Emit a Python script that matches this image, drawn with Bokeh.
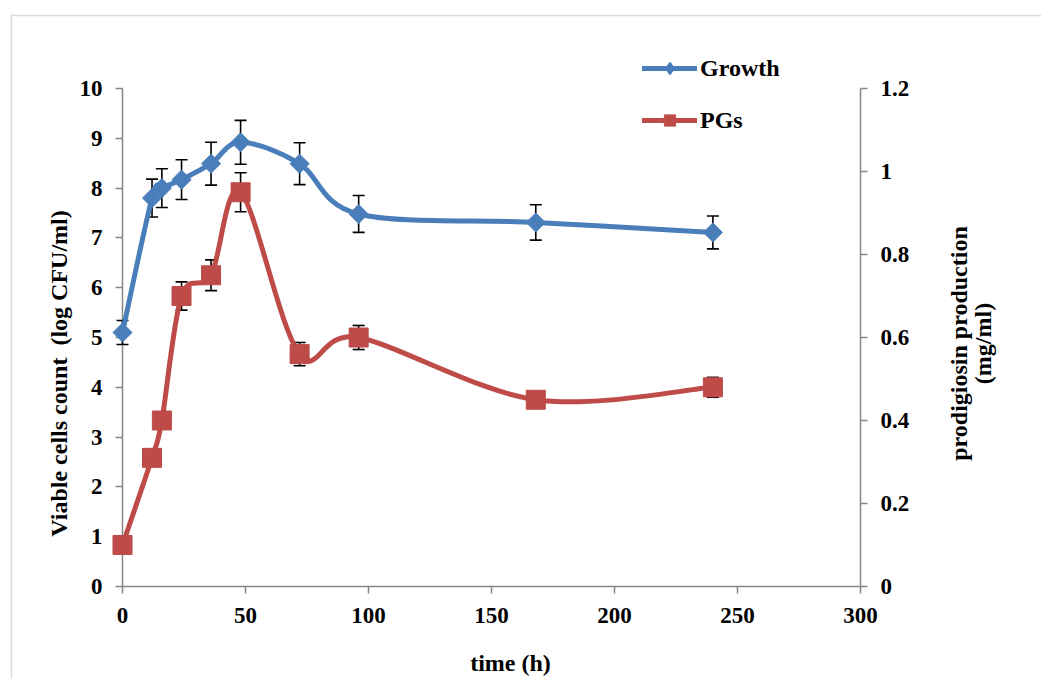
import numpy as np
from bokeh.plotting import figure
from bokeh.models import (Range1d, LinearAxis, FixedTicker, Legend, LegendItem,
                          Label, BoxAnnotation, ColumnDataSource)
from bokeh.embed import file_html
from bokeh.resources import INLINE

# ---------------- data ----------------
time_h = [0, 12, 16, 24, 36, 48, 72, 96, 168, 240]
growth = [5.10, 7.80, 8.00, 8.17, 8.49, 8.92, 8.49, 7.48, 7.31, 7.11]
growth_err = [0.24, 0.38, 0.39, 0.40, 0.43, 0.44, 0.42, 0.37, 0.355, 0.33]
pgs = [0.10, 0.31, 0.40, 0.70, 0.75, 0.95, 0.56, 0.60, 0.45, 0.48]
pgs_err = [0.015, 0.015, 0.015, 0.034, 0.037, 0.047, 0.028, 0.029, 0.015, 0.024]

x_ticks = [0, 50, 100, 150, 200, 250, 300]
left_ticks = [0, 1, 2, 3, 4, 5, 6, 7, 8, 9, 10]
right_ticks = [0, 0.2, 0.4, 0.6, 0.8, 1.0, 1.2]
right_tick_labels = ["0", "0.2", "0.4", "0.6", "0.8", "1", "1.2"]

series_names = ["Growth", "PGs"]
x_title = "time (h)"
left_title = "Viable cells count \u00a0(log CFU/ml)"
right_title_1 = "prodigiosin production"
right_title_2 = "(mg/ml)"

BLUE = "#4A7EBB"
RED = "#BE4B48"
AXIS = "#868686"
FONT = "Liberation Serif"

# ---------------- layout (pixels) ----------------
W, H = 1041, 679
PX_LEFT, PX_RIGHT = 122.0, 860.0      # x = 0 and x = 300
PX_BOTTOM, PX_TOP = 586.0, 88.0       # y = 0 and y = 10 (1.2)
X_MIN, X_MAX = 0.0, 300.0
Y_MIN, Y_MAX = 0.0, 10.0
P_MIN, P_MAX = 0.0, 1.2

xs = (PX_RIGHT - PX_LEFT) / (X_MAX - X_MIN)
ys = (PX_BOTTOM - PX_TOP) / (Y_MAX - Y_MIN)
ps = (PX_BOTTOM - PX_TOP) / (P_MAX - P_MIN)


def dx(px):
    return X_MIN + (px - PX_LEFT) / xs


def dy(py):
    return Y_MIN + (PX_BOTTOM - py) / ys


def dp(py):
    return P_MIN + (PX_BOTTOM - py) / ps


def smooth_segments(xv, yv):
    """Catmull-Rom style cubic bezier control points (like Excel smoothed line)."""
    x = np.asarray(xv, float)
    y = np.asarray(yv, float)
    xp = np.concatenate([[x[0]], x, [x[-1]]])
    yp = np.concatenate([[y[0]], y, [y[-1]]])
    i = np.arange(len(x) - 1)
    return dict(
        x0=x[i], y0=y[i], x1=x[i + 1], y1=y[i + 1],
        cx0=x[i] + (xp[i + 2] - xp[i]) / 6.0,
        cy0=y[i] + (yp[i + 2] - yp[i]) / 6.0,
        cx1=x[i + 1] - (xp[i + 3] - xp[i + 1]) / 6.0,
        cy1=y[i + 1] - (yp[i + 3] - yp[i + 1]) / 6.0,
    )


p = figure(width=W, height=H, output_backend="svg", toolbar_location=None,
           x_range=Range1d(dx(0), dx(W)), y_range=Range1d(dy(H), dy(0)),
           x_axis_type=None, y_axis_type=None, min_border=0)
p.extra_y_ranges = {"pg": Range1d(dp(H), dp(0))}
p.outline_line_color = None
p.background_fill_color = "white"
p.border_fill_color = "white"


def style_axis(ax, standoff):
    ax.level = "underlay"
    ax.axis_line_color = AXIS
    ax.axis_line_width = 1.5
    ax.major_tick_line_color = AXIS
    ax.major_tick_line_width = 1.5
    ax.major_tick_out = 7
    ax.major_tick_in = 0
    ax.minor_tick_line_color = None
    ax.major_label_text_font = FONT
    ax.major_label_text_font_style = "bold"
    ax.major_label_text_font_size = "23px"
    ax.major_label_text_color = "black"
    ax.major_label_standoff = standoff


xaxis = LinearAxis(ticker=FixedTicker(ticks=x_ticks), fixed_location=Y_MIN,
                   bounds=(X_MIN, X_MAX))
style_axis(xaxis, 14)
p.add_layout(xaxis, "below")

yaxis = LinearAxis(ticker=FixedTicker(ticks=left_ticks), fixed_location=X_MIN,
                   bounds=(Y_MIN, Y_MAX))
style_axis(yaxis, 13)
p.add_layout(yaxis, "left")

raxis = LinearAxis(y_range_name="pg", ticker=FixedTicker(ticks=right_ticks),
                   fixed_location=X_MAX, bounds=(P_MIN, P_MAX),
                   major_label_overrides=dict(zip(right_ticks, right_tick_labels)))
style_axis(raxis, 13)
p.add_layout(raxis, "right")

# ---------------- error bars ----------------
g = np.array(growth)
ge = np.array(growth_err)
pg = np.array(pgs)
pe = np.array(pgs_err)

p.segment(x0=time_h, y0=g - ge, x1=time_h, y1=g + ge, line_color="black", line_width=1.6)
p.scatter(x=time_h * 2, y=list(g - ge) + list(g + ge), marker="dash", size=12,
          line_color="black", line_width=1.6)
p.segment(x0=time_h, y0=pg - pe, x1=time_h, y1=pg + pe, line_color="black",
          line_width=1.6, y_range_name="pg")
p.scatter(x=time_h * 2, y=list(pg - pe) + list(pg + pe), marker="dash", size=12,
          line_color="black", line_width=1.6, y_range_name="pg")

# ---------------- smoothed lines ----------------
g_src = ColumnDataSource(smooth_segments(time_h, growth))
g_line = p.bezier(x0="x0", y0="y0", x1="x1", y1="y1", cx0="cx0", cy0="cy0",
                  cx1="cx1", cy1="cy1", source=g_src, line_color=BLUE,
                  line_width=5, line_cap="round")
p_src = ColumnDataSource(smooth_segments(time_h, pgs))
p_line = p.bezier(x0="x0", y0="y0", x1="x1", y1="y1", cx0="cx0", cy0="cy0",
                  cx1="cx1", cy1="cy1", source=p_src, line_color=RED,
                  line_width=5, line_cap="round", y_range_name="pg")

# diamond markers drawn as squares rotated by 45 degrees
g_mk = p.scatter(x=time_h, y=growth, marker="square", angle=np.pi / 4, size=13.5,
                 fill_color=BLUE, line_color=BLUE)
p_mk = p.scatter(x=time_h, y=pgs, marker="square", size=19,
                 fill_color=RED, line_color=RED, y_range_name="pg")
# zero-size diamond renderer used only for the legend swatch
g_leg = p.scatter(x=time_h, y=growth, marker="diamond", size=0,
                  fill_color=BLUE, line_color=BLUE, line_width=2)

# ---------------- legend ----------------
legend = Legend(items=[LegendItem(label=series_names[0], renderers=[g_line, g_leg]),
                       LegendItem(label=series_names[1], renderers=[p_line, p_mk])],
                location=(642, H - 134), orientation="vertical",
                label_text_font=FONT, label_text_font_style="bold",
                label_text_font_size="24px", label_text_color="black",
                glyph_width=55, glyph_height=28, label_height=28,
                label_standoff=3, spacing=24, padding=0, margin=0,
                border_line_color=None, background_fill_alpha=0)
p.add_layout(legend)


# ---------------- titles ----------------
def lab(text, x, y, angle=0.0):
    p.add_layout(Label(text=text, x=x, y=y, angle=angle,
                       text_font=FONT, text_font_style="bold",
                       text_font_size="24px", text_color="black",
                       text_align="center", text_baseline="middle"))


lab(x_title, dx(510), dy(662))
lab(left_title, dx(58), dy(373), angle=np.pi / 2)
lab(right_title_1, dx(958), dy(343), angle=np.pi / 2)
lab(right_title_2, dx(982), dy(343), angle=np.pi / 2)

# outer frame (cropped page border)
p.add_layout(BoxAnnotation(left=dx(11), right=dx(W + 50), top=dy(15), bottom=dy(H + 50),
                           fill_alpha=0, line_color="#8c8c8c", line_width=1.5,
                           level="underlay"))

open("out.html", "w").write(file_html(p, INLINE))
